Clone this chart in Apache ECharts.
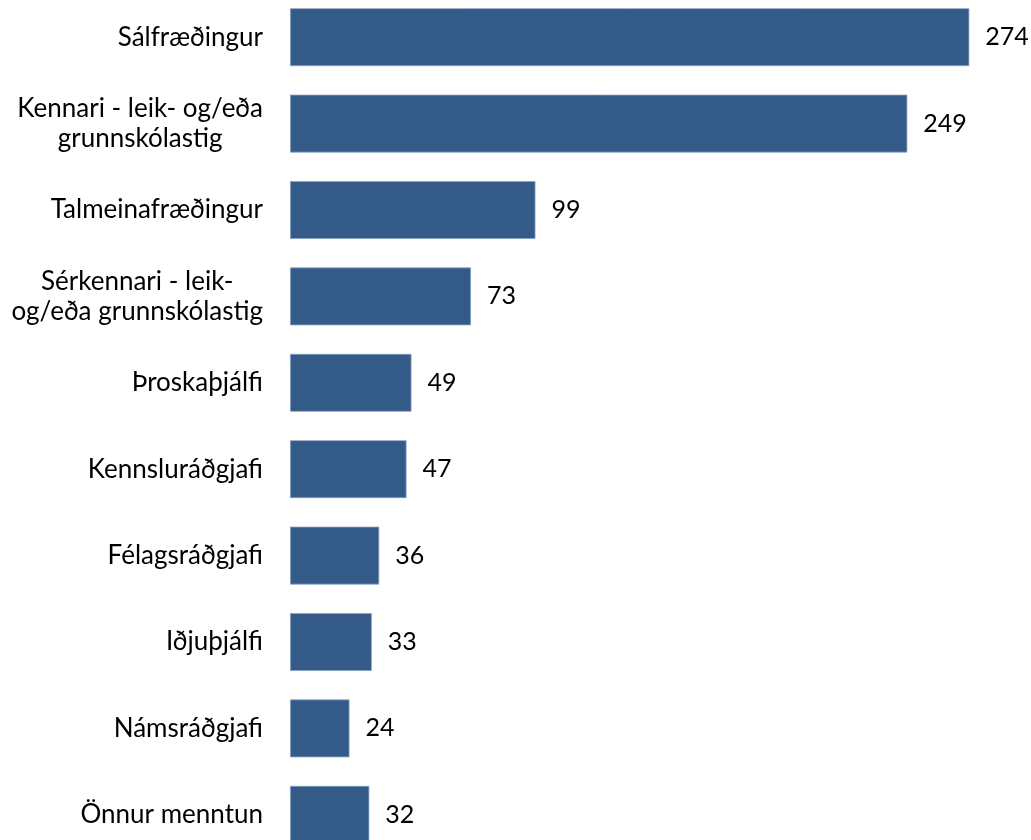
<!DOCTYPE html>
<html><head><meta charset="utf-8">
<script src="https://cdn.jsdelivr.net/npm/echarts@6/dist/echarts.min.js"></script>
<style>html,body{margin:0;padding:0;background:#fff;overflow:hidden;width:1031px;height:840px;position:relative;}#c{position:absolute;left:0;top:-6px;width:1031px;height:864px;}</style>
</head><body><div id="c"></div>
<script>
const categories = [
  "Sálfræðingur",
  "Kennari - leik- og/eða\ngrunnskólastig",
  "Talmeinafræðingur",
  "Sérkennari - leik-\nog/eða grunnskólastig",
  "Þroskaþjálfi",
  "Kennsluráðgjafi",
  "Félagsráðgjafi",
  "Iðjuþjálfi",
  "Námsráðgjafi",
  "Önnur menntun"
];
const values = [274, 249, 99, 73, 49, 47, 36, 33, 24, 32];

const FONT = "Lato";
const chart = echarts.init(document.getElementById('c'));
chart.setOption({
  backgroundColor: '#ffffff',
  animation: false,
  grid: { left: 290, right: 46.8, top: 0, bottom: 0, containLabel: false },
  xAxis: {
    type: 'value', min: 0, max: 280, show: false
  },
  yAxis: {
    type: 'category', inverse: true, data: categories,
    axisLine: { show: false }, axisTick: { show: false }, splitLine: { show: false },
    axisLabel: {
      margin: 27, color: '#000', fontFamily: FONT, fontSize: 26,
      formatter: function (v) { return v.split('\n').map(l => '{c|' + l + '}').join('\n'); },
      rich: { c: { align: 'center', color: '#000', fontFamily: FONT, fontSize: 26, lineHeight: 30 } }
    }
  },
  series: [{
    type: 'bar', data: values, barCategoryGap: '33%',
    itemStyle: { color: '#345a87', borderColor: '#8aa3c4', borderWidth: 0.8 },
    label: { show: true, position: 'right', distance: 16, color: '#000', fontFamily: FONT, fontSize: 25 }
  }]
});
</script></body></html>
